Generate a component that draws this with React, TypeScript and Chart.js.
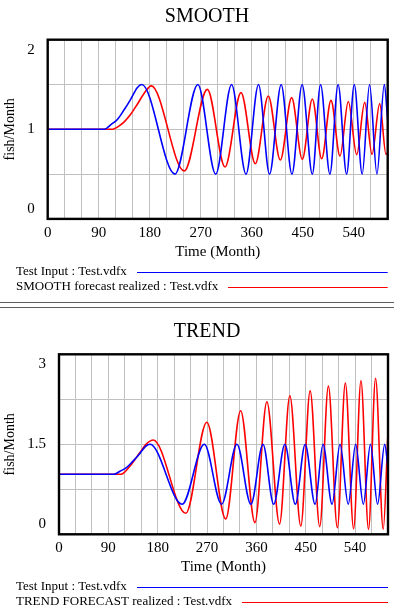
import React, { useEffect, useRef } from "react";
import { Chart, registerables } from "chart.js";

Chart.register(...registerables);

const FONT = '"Liberation Serif", "Times New Roman", serif';

// ---------- data ----------
const timeMin = 0;
const timeMax = 600;
const timeGridStep = 30;
const timeLabelStep = 90;

// Test Input (same series in both panels)
const inputTime = [0, 100, 111, 123, 134.6, 146.4, 158, 166, 224.5, 265, 296.5, 324.5, 350, 372, 391.5, 412, 431, 449, 467, 481.5, 498, 512.5, 527.5, 541, 555, 568, 581, 594, 600];
const inputValue = [1, 1, 1.05, 1.11, 1.215, 1.335, 1.465, 1.5, 0.5, 1.5, 0.5, 1.5, 0.5, 1.5, 0.5, 1.5, 0.5, 1.5, 0.5, 1.5, 0.5, 1.5, 0.5, 1.5, 0.5, 1.5, 0.5, 1.5, 1.1];

// SMOOTH forecast realized
const smoothTime = [0, 115, 123, 134.6, 146.4, 158.2, 170, 182.8, 241, 281.7, 312.9, 341.1, 366.4, 389.3, 410.5, 430.5, 449.3, 467, 483.5, 499.9, 515.8, 530.5, 545.3, 559.4, 572.3, 585.9, 597, 600];
const smoothValue = [1, 1, 1.025, 1.08, 1.167, 1.28, 1.4, 1.485, 0.535, 1.446, 0.58, 1.409, 0.616, 1.372, 0.657, 1.353, 0.665, 1.338, 0.672, 1.323, 0.702, 1.31, 0.717, 1.3, 0.72, 1.286, 0.72, 0.74];

// TREND FORECAST realized
const trendTime = [0, 110, 116, 128, 140, 152, 158.5, 172, 231.3, 269.5, 304, 331.3, 357.3, 379.1, 402.2, 421, 441, 458, 475.5, 491.3, 507.6, 522.2, 537.3, 550.7, 564.5, 577.3, 591.3, 600];
const trendValue = [1, 1, 1.01, 1.12, 1.265, 1.42, 1.5, 1.572, 0.35, 1.867, 0.255, 2.06, 0.194, 2.21, 0.17, 2.31, 0.138, 2.39, 0.127, 2.47, 0.11, 2.52, 0.094, 2.56, 0.083, 2.6, 0.083, 1.71];

const smoothYLabels = [0, 1, 2];
const smoothYGridStep = 0.5;
const trendYLabels = [0, 1.5, 3];
const trendYGridStep = 0.75;

const inputLabel = "Test Input : Test.vdfx";
const smoothLabel = "SMOOTH forecast realized : Test.vdfx";
const trendLabel = "TREND FORECAST realized : Test.vdfx";
const xTitle = "Time (Month)";
const yTitle = "fish/Month";

const BLUE = "#0000ff";
const RED = "#ff0000";

type PanelProps = {
  top: number;
  height: number;
  title: string;
  titleY: number;
  area: { left: number; right: number; top: number; bottom: number };
  yLabels: number[];
  yStep: number;
  series: { label: string; color: string; time: number[]; value: number[] }[];
  legendY: number[];
};

function Panel(p: PanelProps) {
  const ref = useRef<HTMLCanvasElement | null>(null);
  useEffect(() => {
    const canvas = ref.current;
    if (!canvas) return;
    const W = 394;
    const xScaleHeight = 46;
    const decor = {
      id: "decor",
      afterDraw(chart: any) {
        const { ctx, chartArea: a, scales } = chart;
        ctx.save();
        ctx.strokeStyle = "#000";
        ctx.lineWidth = 2.4;
        ctx.strokeRect(a.left, a.top, a.right - a.left, a.bottom - a.top);
        ctx.fillStyle = "#000";
        ctx.font = `20px ${FONT}`;
        ctx.textAlign = "center";
        ctx.textBaseline = "middle";
        ctx.fillText(p.title, 207, p.titleY);
        ctx.font = `15px ${FONT}`;
        ctx.textAlign = "right";
        const last = p.yLabels.length - 1;
        p.yLabels.forEach((v, i) => {
          let y = scales.y.getPixelForValue(v);
          if (i === 0) y -= 10;
          else if (i === last) y += 10;
          ctx.fillText(String(v), a.left - 13, y);
        });
        ctx.font = `13px ${FONT}`;
        ctx.textAlign = "left";
        chart.data.datasets.forEach((ds: any, i: number) => {
          const y = p.legendY[i];
          ctx.fillStyle = "#000";
          ctx.fillText(ds.label, 16, y);
          const w = ctx.measureText(ds.label).width;
          ctx.strokeStyle = ds.borderColor;
          ctx.lineWidth = 1;
          ctx.beginPath();
          ctx.moveTo(Math.round(16 + w + 10), Math.round(y) + 0.5);
          ctx.lineTo(a.right, Math.round(y) + 0.5);
          ctx.stroke();
        });
        ctx.restore();
      },
    };
    const chart = new Chart(canvas, {
      type: "line",
      data: {
        datasets: p.series.map((s) => ({
          label: s.label,
          data: s.time.map((t, i) => ({ x: t, y: s.value[i] })),
          borderColor: s.color,
          backgroundColor: s.color,
          borderWidth: 1.6,
          pointRadius: 0,
          fill: false,
          cubicInterpolationMode: "monotone" as const,
        })),
      },
      options: {
        animation: false,
        responsive: false,
        devicePixelRatio: 1,
        events: [],
        layout: {
          padding: {
            left: 0,
            top: p.area.top,
            right: W - p.area.right,
            bottom: p.height - p.area.bottom - xScaleHeight,
          },
        },
        plugins: { legend: { display: false }, title: { display: false }, tooltip: { enabled: false } },
        scales: {
          x: {
            type: "linear",
            min: timeMin,
            max: timeMax,
            afterFit: (s: any) => {
              s.height = xScaleHeight;
            },
            grid: { color: "#c0c0c0", lineWidth: 1, drawTicks: false },
            border: { display: false },
            ticks: {
              stepSize: timeGridStep,
              autoSkip: false,
              maxRotation: 0,
              padding: 5,
              color: "#000",
              font: { family: FONT, size: 15 },
              callback: (v: any) => (Number(v) % timeLabelStep === 0 ? String(v) : ""),
            },
            title: {
              display: true,
              text: xTitle,
              color: "#000",
              font: { family: FONT, size: 15 },
              padding: { top: 0, bottom: 4 },
            },
          },
          y: {
            type: "linear",
            min: p.yLabels[0],
            max: p.yLabels[p.yLabels.length - 1],
            afterFit: (s: any) => {
              s.width = p.area.left;
            },
            grid: { color: "#c0c0c0", lineWidth: 1, drawTicks: false },
            border: { display: false },
            ticks: { stepSize: p.yStep, display: false },
            title: {
              display: true,
              text: yTitle,
              color: "#000",
              font: { family: FONT, size: 14 },
              padding: { top: 2, bottom: 0 },
            },
          },
        },
      },
      plugins: [decor],
    });
    return () => chart.destroy();
  }, []);
  return (
    <div style={{ position: "absolute", left: 0, top: p.top, width: 394, height: p.height }}>
      <canvas ref={ref} width={394} height={p.height} style={{ display: "block", width: 394, height: p.height }} />
    </div>
  );
}

export default function App() {
  return (
    <div style={{ position: "absolute", left: 0, top: 0, width: 394, height: 608, background: "#fff" }}>
      <Panel
        top={0}
        height={300}
        title="SMOOTH"
        titleY={17}
        area={{ left: 47.7, right: 387.7, top: 39.7, bottom: 218.9 }}
        yLabels={smoothYLabels}
        yStep={smoothYGridStep}
        series={[
          { label: inputLabel, color: BLUE, time: inputTime, value: inputValue },
          { label: smoothLabel, color: RED, time: smoothTime, value: smoothValue },
        ]}
        legendY={[271.5, 286.8]}
      />
      <div style={{ position: "absolute", left: 0, top: 302, width: 394, height: 1, background: "#606060" }} />
      <div style={{ position: "absolute", left: 0, top: 307, width: 394, height: 1, background: "#606060" }} />
      <Panel
        top={308}
        height={300}
        title="TREND"
        titleY={24.2}
        area={{ left: 59, right: 388, top: 46.3, bottom: 226.3 }}
        yLabels={trendYLabels}
        yStep={trendYGridStep}
        series={[
          { label: inputLabel, color: BLUE, time: inputTime, value: inputValue },
          { label: trendLabel, color: RED, time: trendTime, value: trendValue },
        ]}
        legendY={[278.7, 294]}
      />
    </div>
  );
}
